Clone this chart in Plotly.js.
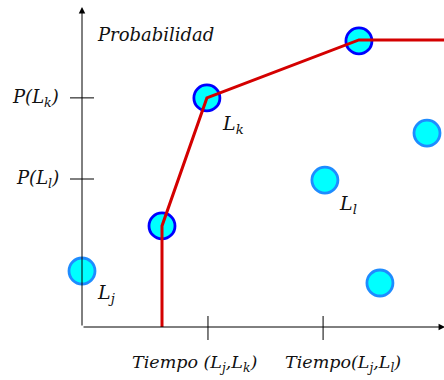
<!DOCTYPE html>
<html>
<head>
<meta charset="utf-8">
<script src="https://cdn.plot.ly/plotly-3.0.1.min.js"></script>
<style>html,body{margin:0;padding:0;background:#fff;}#chart{width:444px;height:380px;}</style>
</head>
<body>
<div id="chart"></div>
<script>
// Points on the frontier (dark blue border)
const frontX = [2.21, 3.45, 7.65];
const frontY = [0.316, 0.716, 0.894];
// Other points (light blue border)
const otherX = [0, 6.71, 9.53, 8.23];
const otherY = [0.175, 0.459, 0.606, 0.1375];
// Red frontier line
const lineX = [2.21, 2.21, 3.45, 7.65, 10];
const lineY = [0, 0.316, 0.716, 0.897, 0.897];
// Axis ticks
const yTickVals = [0.716, 0.4625];
const yTickText = ['<i>P(L<sub>k</sub>)</i>', '<i>P(L<sub>l</sub>)</i>'];
const xTickVals = [3.48, 6.66];
const xTickText = ['<i>Tiempo (L<sub>j</sub>,L<sub>k</sub>)</i>', '<i>Tiempo(L<sub>j</sub>,L<sub>l</sub>)</i>'];
// Point labels
const labelText = ['<i>L<sub>j</sub></i>', '<i>L<sub>k</sub></i>', '<i>L<sub>l</sub></i>'];
const labelX = [0, 3.45, 6.71];
const labelY = [0.175, 0.716, 0.459];

const FONT = 'DejaVu Serif';
const TXT = '#111';

const traces = [
  {x: otherX, y: otherY, type: 'scatter', mode: 'markers', cliponaxis: false,
   marker: {size: 26, color: '#00ffff', line: {color: '#1e8cff', width: 2.8}}, hoverinfo: 'skip'},
  {x: frontX, y: frontY, type: 'scatter', mode: 'markers', cliponaxis: false,
   marker: {size: 26, color: '#00ffff', line: {color: '#0000ff', width: 2.8}}, hoverinfo: 'skip'},
  {x: lineX, y: lineY, type: 'scatter', mode: 'lines', cliponaxis: false,
   line: {color: '#d40000', width: 3}, hoverinfo: 'skip'}
];

const shapes = [];
yTickVals.forEach(v => shapes.push({type: 'line', xref: 'paper', yref: 'y', xsizemode: 'pixel', xanchor: 0,
  x0: -12, x1: 12, y0: v, y1: v, line: {color: '#000', width: 1}}));
xTickVals.forEach(v => shapes.push({type: 'line', xref: 'x', yref: 'paper', ysizemode: 'pixel', yanchor: 0,
  x0: v, x1: v, y0: -13, y1: 11, line: {color: '#000', width: 1}}));

const annotations = [
  // axes with arrows
  {x: 0, y: 1, ax: 0, ay: 0, xref: 'x', yref: 'y', axref: 'x', ayref: 'y', text: '', showarrow: true,
   arrowhead: 2, arrowsize: 1.3, arrowwidth: 1, arrowcolor: '#000', standoff: 0, startstandoff: 0},
  {x: 10.03, y: 0, ax: 0, ay: 0, xref: 'x', yref: 'y', axref: 'x', ayref: 'y', text: '', showarrow: true,
   arrowhead: 2, arrowsize: 1.3, arrowwidth: 1, arrowcolor: '#000', standoff: 0, startstandoff: 0},
  {x: 0, y: 0.915, xref: 'x', yref: 'y', xshift: 73, text: '<i>Probabilidad</i>', showarrow: false,
   font: {family: FONT, size: 18, color: TXT}}
];
yTickVals.forEach((v, i) => annotations.push({x: 0, y: v, xref: 'x', yref: 'y', xanchor: 'right', xshift: -21,
  text: yTickText[i], showarrow: false, font: {family: FONT, size: 18, color: TXT}}));
const xShifts = [-13, 20];
xTickVals.forEach((v, i) => annotations.push({x: v, y: 0, xref: 'x', yref: 'y', yshift: -36, xshift: xShifts[i],
  text: xTickText[i], showarrow: false, font: {family: FONT, size: 17.5, color: TXT}}));
const lShift = [[24, -22], [26, -27], [23, -24]];
labelText.forEach((t, i) => annotations.push({x: labelX[i], y: labelY[i], xref: 'x', yref: 'y',
  xshift: lShift[i][0], yshift: lShift[i][1], text: t, showarrow: false,
  font: {family: FONT, size: 19, color: TXT}}));

const layout = {
  width: 444, height: 380,
  margin: {l: 82, r: 0, t: 7, b: 53},
  paper_bgcolor: '#fff', plot_bgcolor: '#fff',
  showlegend: false,
  xaxis: {range: [0, 10], showgrid: false, zeroline: false, showline: false, showticklabels: false, ticks: '', fixedrange: true},
  yaxis: {range: [0, 1], showgrid: false, zeroline: false, showline: false, showticklabels: false, ticks: '', fixedrange: true},
  shapes: shapes,
  annotations: annotations
};

Plotly.newPlot('chart', traces, layout, {displayModeBar: false, staticPlot: true});
</script>
</body>
</html>
